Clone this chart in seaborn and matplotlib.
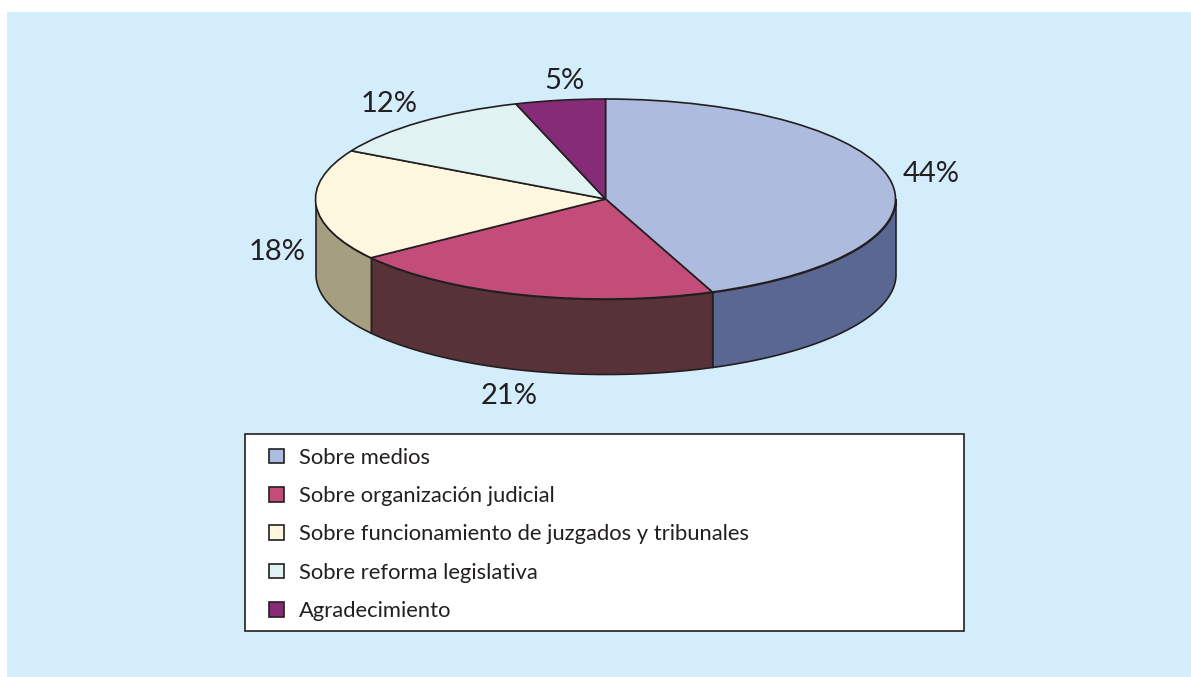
import numpy as np
import matplotlib
matplotlib.use("Agg")
import matplotlib.pyplot as plt
from matplotlib.patches import Rectangle, Patch
from matplotlib.legend_handler import HandlerPatch
import seaborn as sns

categories = ["Sobre medios", "Sobre organización judicial",
              "Sobre funcionamiento de juzgados y tribunales",
              "Sobre reforma legislativa", "Agradecimiento"]
values = [44, 21, 18, 12, 5]
pct_labels = ["44%", "21%", "18%", "12%", "5%"]
top_colors = ["#ADBBDE", "#C24D79", "#FDF7DF", "#E0F2F1", "#852B77"]
side_colors = ["#5A6793", "#583239", "#A69E80", "#A9B2B0", "#521A49"]

sns.set_theme(style="white")
plt.rcParams["font.family"] = ["Lato", "DejaVu Sans"]

W, H = 1191, 677
EDGE = "#231F20"
fig = plt.figure(figsize=(W / 100, H / 100), dpi=100, facecolor="white")
# light blue panel, white strip left and top
fig.patches.append(Rectangle((7 / W, 0), 1, 1 - 12 / H, transform=fig.transFigure,
                             facecolor="#D4EDFB", edgecolor="none", zorder=-5))
# legend box drawn apart, the legend's own frame can't get the bottom padding right
fig.patches.append(Rectangle((245 / W, 1 - 631 / H), 719 / W, 197 / H, transform=fig.transFigure,
                             facecolor="white", edgecolor=EDGE, linewidth=1.2, zorder=1))

# axes are set so that one pie radius = 290 px wide, 100 px tall
ax = fig.add_axes([(605.5 - 348) / W, 1 - 384 / H, 696 / W, 305 / H])
ax.patch.set_alpha(0)
depth = 0.75

# extruded side, only the part facing the viewer (clockwise angle 90..270 from top)
edges = np.cumsum([0] + values) / sum(values) * 360
for i in range(len(values)):
    a0, a1 = max(edges[i], 90), min(edges[i + 1], 270)
    if a1 <= a0:
        continue
    t = np.radians(np.linspace(a0, a1, 80))
    x = np.sin(t)
    y = np.cos(t)
    ax.fill_between(x, y, y - depth, facecolor=side_colors[i], edgecolor=EDGE, linewidth=1.2)

ax.pie(values, colors=sns.color_palette(top_colors), startangle=90, counterclock=False,
       radius=1, wedgeprops=dict(edgecolor=EDGE, linewidth=1.2))
ax.set_aspect("auto")
ax.set_xlim(-1.2, 1.2)
ax.set_ylim(-1.85, 1.2)

# percent labels sit by hand, the pie's own labels ignore the extrusion
label_x = [1.124, -0.331, -1.134, -0.745, -0.141]
label_y = [0.25, -1.97, -0.53, 0.95, 1.18]
for lx, ly, s in zip(label_x, label_y, pct_labels):
    ax.text(lx, ly, s, ha="center", va="center", fontsize=21, color=EDGE)


# small square at the right end of the handle box, so the left padding stays wide
# legend units are points here, 10.5 pt is about 14.5 px
def small_square(legend, orig_handle, xdescent, ydescent, width, height, fontsize):
    return Rectangle((width - 10.5, height / 2 - 5.25), 10.5, 10.5)


handles = [Patch(facecolor=c, edgecolor=EDGE, linewidth=1.2) for c in top_colors]
leg = fig.legend(handles, categories, loc="upper left",
                 bbox_to_anchor=(245 / W, 1 - 434 / H),
                 ncol=1, fontsize=15.85, frameon=False, borderaxespad=0,
                 handler_map={Patch: HandlerPatch(patch_func=small_square)},
                 handlelength=1.13, handletextpad=0.71,
                 labelspacing=0.835, borderpad=0.62, labelcolor=EDGE)

fig.savefig("out.png", dpi=100)
